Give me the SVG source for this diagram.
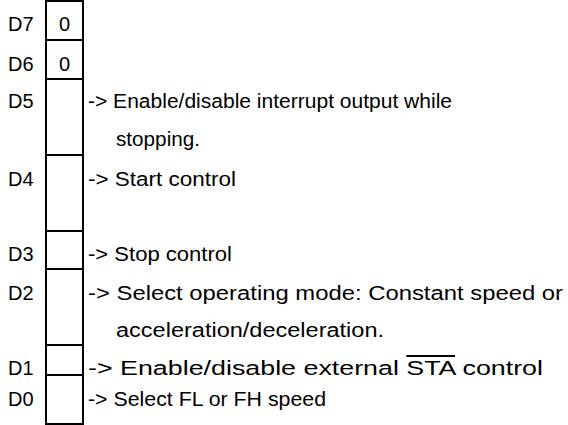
<svg xmlns="http://www.w3.org/2000/svg" width="568" height="425" viewBox="0 0 568 425">
<style>
text{font-family:"Liberation Sans",Arial,sans-serif;font-size:20px;fill:#000}
.box{fill:none;stroke:#000;stroke-width:2}
</style>
<rect width="568" height="425" fill="#fff"/>
<g id="register">
<rect class="box" x="46" y="1" width="37" height="423"/>
<path class="box" d="M46 40H83M46 79H83M46 155H83M46 231H83M46 269H83M46 345H83M46 375H83"/>
<text x="64.5" y="31" text-anchor="middle">0</text>
<text x="64.5" y="70.5" text-anchor="middle">0</text>
</g>
<g id="labels">
<text x="8" y="31">D7</text>
<text x="8" y="70.5">D6</text>
<text x="8" y="107.5">D5</text>
<text x="8" y="186">D4</text>
<text x="8" y="261">D3</text>
<text x="8" y="299.5">D2</text>
<text x="8" y="375">D1</text>
<text x="8" y="406">D0</text>
</g>
<g id="descriptions">
<text x="88" y="107.5" textLength="364" lengthAdjust="spacingAndGlyphs">-&gt; Enable/disable interrupt output while</text>
<text x="116" y="145.5" textLength="84" lengthAdjust="spacingAndGlyphs">stopping.</text>
<text x="88" y="186" textLength="148" lengthAdjust="spacingAndGlyphs">-&gt; Start control</text>
<text x="88" y="261" textLength="144" lengthAdjust="spacingAndGlyphs">-&gt; Stop control</text>
<text x="88" y="299.5" textLength="475" lengthAdjust="spacingAndGlyphs">-&gt; Select operating mode: Constant speed or</text>
<text x="116" y="337" textLength="268" lengthAdjust="spacingAndGlyphs">acceleration/deceleration.</text>
<text x="88" y="375" textLength="455" lengthAdjust="spacingAndGlyphs">-&gt; Enable/disable external <tspan text-decoration="overline">STA</tspan> control</text>
<text x="88" y="406" textLength="238" lengthAdjust="spacingAndGlyphs">-&gt; Select FL or FH speed</text>
</g>
</svg>
